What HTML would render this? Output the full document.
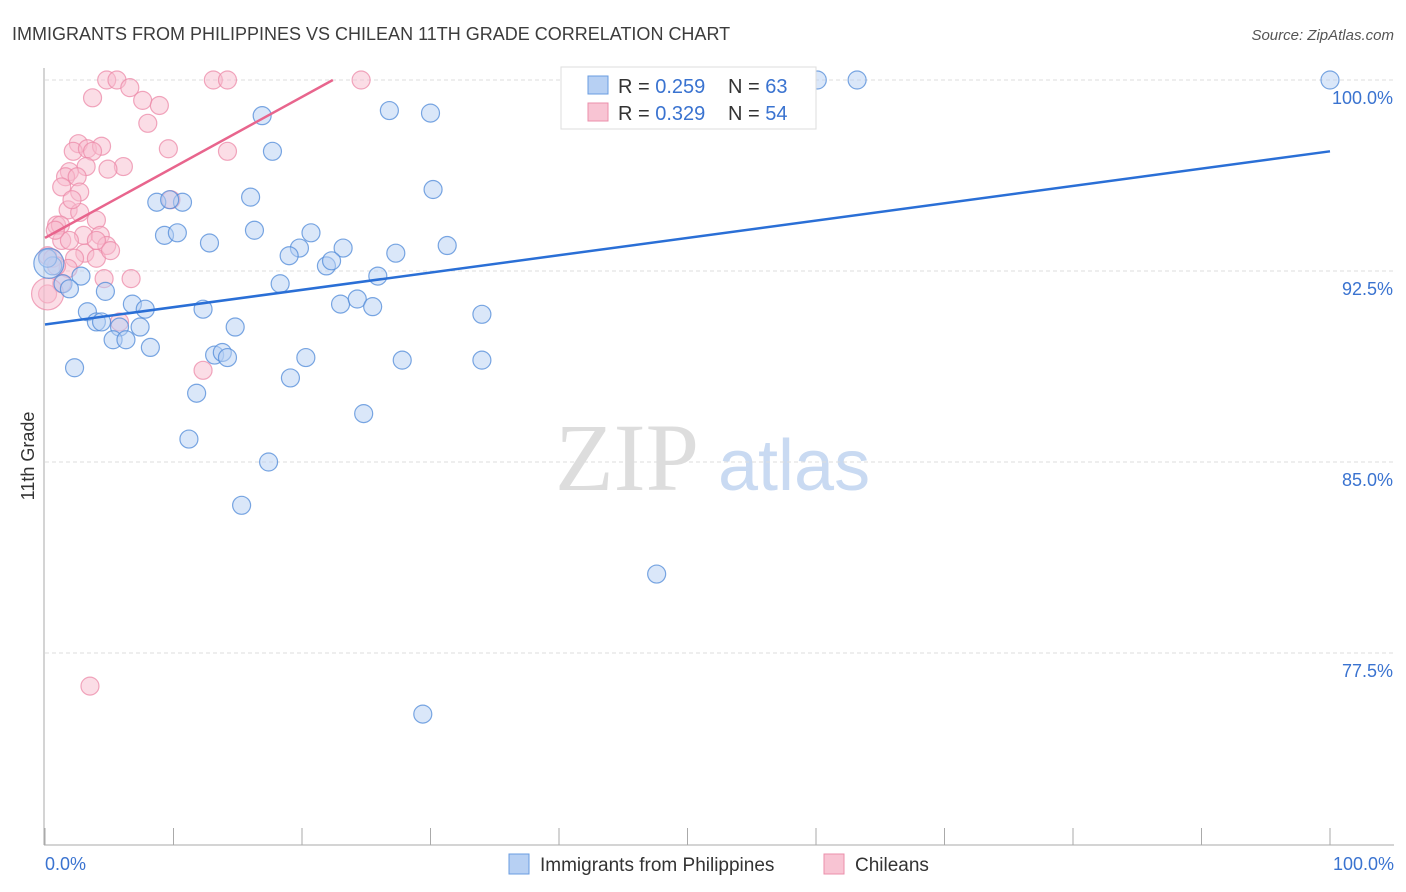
<!DOCTYPE html>
<html><head><meta charset="utf-8"><style>
body{margin:0;background:#fff;font-family:"Liberation Sans",sans-serif;}
svg{display:block}
</style></head><body>
<svg id="chart" width="1406" height="892">
<text x="12" y="40" font-size="18" fill="#3c3c3c">IMMIGRANTS FROM PHILIPPINES VS CHILEAN 11TH GRADE CORRELATION CHART</text>
<text x="1394" y="40" font-size="15" fill="#555" text-anchor="end" font-style="italic">Source: ZipAtlas.com</text>
<text x="555" y="490" font-size="96" fill="#ddd" font-family="Liberation Serif,serif">ZIP</text>
<text x="718" y="490" font-size="72" fill="#c9daf2">atlas</text>
<g id="grid"></g><g id="axes"></g><g id="marks"></g>
<text transform="translate(34,456) rotate(-90)" font-size="18" fill="#333" text-anchor="middle">11th Grade</text>
<text x="45" y="870" font-size="18" fill="#3a73d0">0.0%</text>
<text x="1394" y="870" font-size="18" fill="#3a73d0" text-anchor="end">100.0%</text>
<g>
<rect x="561" y="67" width="255" height="62" fill="#fff" stroke="#ddd"/>
<rect x="588" y="76" width="20" height="18" fill="#b7d0f3" stroke="#6a9ce0"/>
<rect x="588" y="103" width="20" height="18" fill="#f8c4d3" stroke="#eb8fab"/>
<text x="618" y="93" font-size="20" fill="#333">R = <tspan fill="#3a73d0">0.259</tspan></text>
<text x="728" y="93" font-size="20" fill="#333">N = <tspan fill="#3a73d0">63</tspan></text>
<text x="618" y="120" font-size="20" fill="#333">R = <tspan fill="#3a73d0">0.329</tspan></text>
<text x="728" y="120" font-size="20" fill="#333">N = <tspan fill="#3a73d0">54</tspan></text>
</g>
<g>
<rect x="509" y="854" width="20" height="20" fill="#b7d0f3" stroke="#6a9ce0"/>
<text x="540" y="871" font-size="19" fill="#333">Immigrants from Philippines</text>
<rect x="824" y="854" width="20" height="20" fill="#f8c4d3" stroke="#eb8fab"/>
<text x="855" y="871" font-size="19" fill="#333">Chileans</text>
</g>
</svg>
<script>
const yTicks=[100,92.5,85,77.5];
const yTickLabels=["100.0%","92.5%","85.0%","77.5%"];
const xTicks=[0,10,20,30,40,50,60,70,80,90,100];
const blueX=[60.1,63.2,100,26.8,30.0,16.9,17.7,30.2,16.0,8.7,10.7,9.7,9.3,10.3,16.3,12.8,20.7,19.8,23.2,19.0,27.3,31.3,21.9,22.3,25.9,2.8,0.6,0.2,1.4,1.9,18.3,4.7,6.8,7.8,23.0,24.3,25.5,12.3,34.0,3.3,4.0,4.4,14.8,5.8,7.4,5.3,6.3,8.2,13.2,13.8,14.2,20.3,27.8,34.0,2.3,19.1,11.8,24.8,11.2,17.4,15.3,47.6,29.4];
const blueY=[100,100,100,98.8,98.7,98.6,97.2,95.7,95.4,95.2,95.2,95.3,93.9,94.0,94.1,93.6,94.0,93.4,93.4,93.1,93.2,93.5,92.7,92.9,92.3,92.3,92.7,93.0,92.0,91.8,92.0,91.7,91.2,91.0,91.2,91.4,91.1,91.0,90.8,90.9,90.5,90.5,90.3,90.3,90.3,89.8,89.8,89.5,89.2,89.3,89.1,89.1,89.0,89.0,88.7,88.3,87.7,86.9,85.9,85.0,83.3,80.6,75.1];
const pinkX=[4.8,5.6,13.1,14.2,24.6,6.6,3.7,7.6,8.9,8.0,9.6,14.2,2.6,2.2,3.3,4.4,3.7,6.1,4.9,3.2,1.9,1.6,2.5,1.3,2.7,9.8,1.8,2.7,4.0,0.9,1.2,3.0,4.3,1.3,4.8,1.9,3.1,0.2,0.6,4.0,2.3,1.8,0.9,4.6,6.7,1.3,0.2,5.8,12.3,3.5,4.0,0.8,2.1,5.1];
const pinkY=[100,100,100,100,100,99.7,99.3,99.2,99.0,98.3,97.3,97.2,97.5,97.2,97.3,97.4,97.2,96.6,96.5,96.6,96.4,96.2,96.2,95.8,95.6,95.3,94.9,94.8,94.5,94.3,94.3,93.9,93.9,93.7,93.5,93.7,93.2,93.1,93.0,93.0,93.0,92.6,92.7,92.2,92.2,92.0,91.6,90.5,88.6,76.2,93.7,94.1,95.3,93.3];
const bigBlue=[0.3,92.8];
const bigPink=[0.2,91.6];
const blueTrend=[[0,90.4],[100,97.2]];
const pinkTrend=[[0,93.8],[22.4,100]];
const NS="http://www.w3.org/2000/svg";
const xs=v=>45+v*12.85;
const ys=v=>80+(100-v)*191/7.5;
function mk(tag,attrs,parent){const e=document.createElementNS(NS,tag);for(const k in attrs)e.setAttribute(k,attrs[k]);parent.appendChild(e);return e;}
const grid=document.getElementById('grid'),axes=document.getElementById('axes'),marks=document.getElementById('marks');
yTicks.forEach((t,i)=>{
 const l=mk('line',{x1:45,x2:1394,y1:ys(t),y2:ys(t),stroke:'#ddd','stroke-dasharray':'4,3'},grid);
 
 
 const tx=mk('text',{x:1393,y:ys(t)+24,'font-size':18,fill:'#3a73d0','text-anchor':'end'},grid);
 tx.textContent=yTickLabels[i];
 
 
});
const ya=mk('line',{x1:44,x2:44,y1:68,y2:845,stroke:'#aaa'},axes);


const xa=mk('line',{x1:44,x2:1394,y1:845,y2:845,stroke:'#aaa'},axes);


xTicks.forEach(t=>{
 const l=mk('line',{x1:xs(t),x2:xs(t),y1:828,y2:845,stroke:'#aaa'},axes);
 
 
});
function dot(x,y,r,fill,stroke,name){
 const c=mk('circle',{cx:xs(x),cy:ys(y),r:r,fill:fill,'fill-opacity':0.5,stroke:stroke,'stroke-opacity':0.75,'stroke-width':1.2},marks);
 
 
}
pinkX.forEach((x,i)=>dot(x,pinkY[i],9,'#f8bccd','#ec8aa8','chileans-point'));
dot(bigPink[0],bigPink[1],16,'#f8bccd','#ec8aa8','chileans-point-large');
blueX.forEach((x,i)=>dot(x,blueY[i],9,'#b5cff3','#4f8ad8','philippines-point'));
dot(bigBlue[0],bigBlue[1],15,'#b5cff3','#4f8ad8','philippines-point-large');
const bl=mk('line',{x1:xs(blueTrend[0][0]),y1:ys(blueTrend[0][1]),x2:xs(blueTrend[1][0]),y2:ys(blueTrend[1][1]),stroke:'#2a6fd6','stroke-width':2.5},marks);


const pl=mk('line',{x1:xs(pinkTrend[0][0]),y1:ys(pinkTrend[0][1]),x2:xs(pinkTrend[1][0]),y2:ys(pinkTrend[1][1]),stroke:'#e8658d','stroke-width':2.5},marks);


</script>
</body></html>
